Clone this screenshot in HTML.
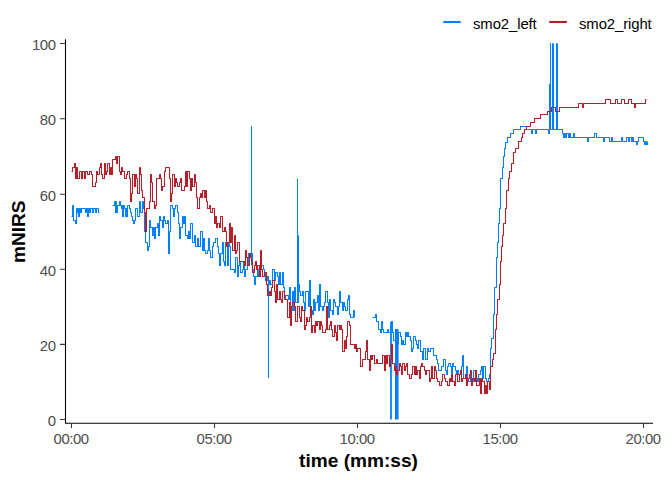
<!DOCTYPE html>
<html><head><meta charset="utf-8"><title>mNIRS</title>
<style>
html,body{margin:0;padding:0;background:#fff;}
body{width:672px;height:480px;overflow:hidden;font-family:"Liberation Sans",sans-serif;}
svg{display:block;}
text{font-family:"Liberation Sans",sans-serif;}
.tk{font-size:14.9px;fill:#4D4D4D;letter-spacing:-0.45px;}
.ti{font-size:19.1px;font-weight:bold;fill:#000;}
.lg{font-size:14.9px;fill:#000;letter-spacing:-0.1px;}
</style></head><body>
<svg width="672" height="480" viewBox="0 0 672 480">
<rect width="672" height="480" fill="#fff"/>
<!-- data -->
<g fill="none" stroke="#0080FF" stroke-width="1.07" stroke-linejoin="round"><path d="M71.5,216.5H72.5V205.5H73.5V220.5H74.5H75.5V223.5H76.5V208.5H77.5V212.5H78.5V208.5H78.5V216.5H79.5V208.5H80.5V212.5H81.5V208.5H85.5V212.5H86.5V208.5H87.5V216.5H88.5V208.5H89.5V212.5H90.5V208.5H92.5V212.5H93.5V208.5H95.5V212.5H96.5V208.5H98.5V212.5H99.5"/><path d="M112.5,205.5H114.5V201.5H115.5V212.5H116.5V201.5H116.5V212.5H117.5V205.5H119.5V201.5H120.5V205.5H121.5V208.5H121.5V205.5H122.5V216.5H123.5V205.5H124.5V208.5H125.5V216.5H125.5V208.5H126.5V216.5H127.5V205.5H129.5V208.5H130.5V212.5H131.5V216.5H132.5V220.5H133.5V223.5H134.5V220.5H135.5V208.5H137.5V216.5H138.5H139.5V201.5H140.5V212.5H142.5V201.5H143.5V208.5H144.5V231.5H145.5V242.5H147.5V250.5H148.5V246.5H149.5V220.5H150.5V227.5H152.5V235.5H153.5V227.5H154.5V238.5H155.5V227.5H157.5V223.5H158.5V235.5H159.5V216.5H160.5V220.5H162.5V227.5H163.5V216.5H164.5V220.5H165.5V223.5H167.5V220.5H168.5V253.5H169.5V231.5H170.5V205.5H172.5V208.5H173.5V216.5H174.5V208.5H175.5V205.5H177.5V212.5H178.5V223.5H179.5V238.5H180.5V227.5H182.5V216.5H183.5V223.5H184.5V216.5H185.5V235.5H187.5V238.5H188.5V231.5H189.5V238.5H190.5V223.5H192.5V242.5H193.5H194.5V235.5H195.5V246.5H197.5V238.5H198.5V246.5H199.5H200.5V231.5H202.5V250.5H203.5V238.5H204.5V250.5H205.5V253.5H207.5V250.5H208.5V238.5H209.5V250.5H210.5V257.5H212.5V246.5H213.5V242.5H214.5H215.5V238.5H217.5V246.5H218.5V253.5H219.5V265.5H220.5V253.5H222.5V242.5H223.5V261.5H224.5V265.5H225.5V242.5H227.5V265.5H228.5V242.5H229.5V246.5H230.5V269.5H232.5H233.5H234.5V272.5H235.5V257.5H237.5V276.5H238.5V265.5H239.5V261.5H240.5V272.5H242.5V269.5H243.5V261.5H244.5V276.5H245.5V269.5H247.5V265.5H248.5V253.5H249.5H250.5H252.5V269.5H253.5V276.5H254.5V284.5H255.5V276.5H257.5V269.5H258.5V276.5H259.5V272.5H260.5V265.5H262.5H263.5V269.5H264.5V272.5H265.5V280.5H267.5V276.5H268.5V284.5H269.5V280.5H270.5V284.5H272.5V269.5H273.5H274.5V280.5H275.5V272.5H277.5V276.5H278.5V284.5H279.5V272.5H280.5V284.5H282.5V272.5H283.5V287.5H284.5V299.5H285.5V295.5H287.5H288.5V299.5H289.5V287.5H290.5V310.5H292.5V291.5H293.5V310.5H294.5V287.5H295.5V302.5H297.5V299.5H298.5V284.5H299.5V291.5H300.5V295.5H302.5V291.5H303.5V302.5H304.5V310.5H305.5V291.5H307.5H308.5V306.5H309.5V280.5H310.5V310.5H312.5V314.5H313.5V299.5H314.5V310.5H315.5V302.5H317.5V295.5H318.5V310.5H319.5V284.5H320.5V306.5H322.5V310.5H323.5V306.5H324.5V302.5H325.5V291.5H327.5V302.5H328.5V317.5H329.5V299.5H330.5V310.5H332.5V314.5H333.5V299.5H334.5V302.5H335.5V306.5H337.5V314.5H338.5V306.5H339.5V291.5H340.5V302.5H342.5V310.5H343.5V302.5H344.5V306.5H345.5V310.5H347.5V299.5H348.5V295.5H349.5V314.5H350.5V317.5H352.5H353.5V310.5H354.5V317.5"/><path d="M372.5,317.5H373.5H375.5V314.5H376.5V321.5H377.5H378.5V329.5H380.5V332.5H381.5V321.5H382.5V329.5H383.5V332.5H385.5H386.5H387.5V329.5H388.5V332.5H390.5V329.5H391.5V321.5H392.5V332.5H393.5V340.5H395.5V336.5H396.5V329.5H397.5V344.5H398.5V332.5H400.5V336.5H401.5V344.5H402.5V340.5H403.5V344.5H405.5V332.5H406.5V336.5H407.5V332.5H408.5V336.5H410.5V340.5H411.5V351.5H412.5V348.5H413.5V336.5H415.5V340.5H416.5V344.5H417.5V348.5H418.5V340.5H420.5V351.5H421.5H422.5V359.5H423.5V348.5H425.5V359.5H426.5H427.5V348.5H428.5V351.5H430.5V348.5H431.5H432.5H433.5V355.5H435.5H436.5V359.5H437.5V363.5H438.5V370.5H440.5H441.5V366.5H442.5H443.5V359.5H445.5V370.5H446.5V374.5H447.5V366.5H448.5V363.5H450.5V366.5H451.5V374.5H452.5V363.5H453.5V366.5H455.5V370.5H456.5V374.5H457.5V370.5H458.5V374.5H460.5H461.5V366.5H462.5V355.5H463.5V378.5H465.5V374.5H466.5V366.5H467.5V378.5H468.5V381.5H470.5V374.5H471.5V381.5H472.5H473.5V370.5H475.5H476.5V378.5H477.5V381.5H478.5V374.5H480.5V370.5H481.5V366.5H482.5V378.5H483.5V366.5H485.5V378.5H486.5V381.5H487.5H488.5V378.5H490.5V374.5H489.5V378.5H490.5V348.5H491.5V338.5H493.5V314.5H494.5V287.5H496.5V257.5H497.5V242.5H498.5V223.5H499.5V208.5H500.5V197.5H500.5V178.5H502.5V167.5H503.5V156.5H504.5V148.5H505.5V142.5H507.5V137.5H510.5V133.5H513.5V129.5H520.5V126.5H526.5V129.5H531.5V133.5H532.5V129.5H535.5V133.5H536.5V129.5H548.5V133.5H549.5V84.5H550.5V43.5H550.5V129.5H562.5V133.5H563.5V137.5H564.5V133.5H565.5V137.5H566.5V133.5H568.5V137.5H569.5V133.5H570.5V137.5H573.5V133.5H574.5V137.5H587.5V141.5H588.5V137.5H594.5V133.5H596.5V137.5H603.5V141.5H604.5V137.5H609.5V141.5H611.5V137.5H612.5V141.5H621.5V137.5H622.5V141.5H626.5V137.5H628.5V141.5H629.5V137.5H631.5V141.5H632.5V137.5H633.5V141.5H636.5V144.5H637.5V141.5H638.5V137.5H643.5V141.5H644.5V144.5H645.5V141.5H646.5V144.5H647.5V141.5"/><path d="M251.5,265.3V126.1" stroke-width="1.07"/><path d="M268.5,280.3V378.1" stroke-width="1.07"/><path d="M297.5,302.9V178.7" stroke-width="1.07"/><path d="M298.5,302.9V235.2" stroke-width="1.07"/><path d="M391.0,321.7V419.5" stroke-width="1.80"/><path d="M396.8,329.2V419.5" stroke-width="3.60"/><path d="M553.0,129.8V43.3" stroke-width="2.00"/><path d="M557.0,129.8V43.3" stroke-width="2.00"/></g>
<g fill="none" stroke="#B41F2A" stroke-width="1.07" stroke-linejoin="round"><path d="M71.5,171.5H72.5V167.5H74.5V163.5H75.5V178.5H76.5V167.5H77.5V178.5H79.5V171.5H80.5H81.5V178.5H82.5V171.5H84.5V178.5H85.5V171.5H86.5H87.5V174.5H89.5V171.5H90.5H91.5V174.5H92.5V186.5H94.5H95.5V182.5H96.5V171.5H97.5V174.5H99.5V167.5H100.5V163.5H101.5V174.5H102.5V178.5H104.5V163.5H105.5V174.5H106.5V171.5H107.5V163.5H109.5V174.5H110.5V167.5H111.5V174.5H112.5V159.5H114.5H115.5V156.5H116.5V163.5H117.5V156.5H119.5V171.5H120.5V174.5H121.5V167.5H122.5V171.5H124.5V178.5H125.5H126.5V174.5H127.5V171.5H129.5V178.5H130.5V201.5H131.5V193.5H132.5V174.5H134.5V186.5H135.5V174.5H136.5V178.5H137.5V193.5H139.5V167.5H140.5V174.5H141.5V190.5H142.5V197.5H144.5V212.5H145.5V231.5H146.5V208.5H147.5H149.5V201.5H150.5V174.5H151.5V182.5H152.5V201.5H154.5V208.5H155.5V205.5H156.5V178.5H157.5H159.5V174.5H160.5V178.5H161.5V190.5H162.5V186.5H164.5V171.5H165.5V167.5H166.5H167.5H169.5V178.5H170.5V201.5H171.5V193.5H172.5V174.5H174.5V186.5H175.5V178.5H176.5V182.5H177.5V186.5H179.5V182.5H180.5V178.5H181.5V190.5H182.5H184.5V186.5H185.5V171.5H186.5V186.5H187.5V171.5H189.5V178.5H190.5V190.5H191.5V178.5H192.5V186.5H194.5V174.5H195.5V182.5H196.5V197.5H197.5V208.5H199.5V197.5H200.5V193.5H201.5V197.5H202.5V190.5H204.5V197.5H205.5V190.5H206.5V201.5H207.5V208.5H209.5V205.5H210.5V212.5H211.5H212.5V208.5H214.5V223.5H215.5V216.5H216.5V227.5H217.5V223.5H219.5V227.5H220.5V216.5H221.5H222.5V231.5H224.5V227.5H225.5V231.5H226.5V246.5H227.5V242.5H229.5V223.5H230.5V242.5H231.5V227.5H232.5V250.5H234.5V235.5H235.5V253.5H236.5V250.5H237.5V242.5H239.5V261.5H240.5H241.5H242.5H244.5V265.5H245.5V250.5H246.5V257.5H247.5V265.5H249.5V253.5H250.5V257.5H251.5V261.5H252.5V272.5H254.5V265.5H255.5V261.5H256.5V269.5H257.5V265.5H259.5V276.5H260.5V250.5H261.5V269.5H262.5V276.5H264.5V272.5H265.5H266.5V284.5H267.5V295.5H269.5V291.5H270.5V295.5H271.5V287.5H272.5V280.5H274.5V291.5H275.5V302.5H276.5V284.5H277.5V299.5H279.5V291.5H280.5V299.5H281.5V302.5H282.5V291.5H284.5V299.5H285.5H286.5H287.5V317.5H289.5V302.5H290.5V325.5H291.5V306.5H292.5V302.5H294.5V306.5H295.5V321.5H296.5H297.5V306.5H299.5V317.5H300.5V321.5H301.5V306.5H302.5V310.5H304.5V329.5H305.5V325.5H306.5V317.5H307.5V321.5H309.5V317.5H310.5V306.5H311.5V332.5H312.5V325.5H314.5V332.5H315.5V321.5H316.5V325.5H317.5V321.5H319.5V329.5H320.5V321.5H321.5V325.5H322.5V332.5H324.5H325.5V329.5H326.5V306.5H327.5V329.5H329.5V325.5H330.5V321.5H331.5V329.5H332.5V336.5H334.5V325.5H335.5V332.5H336.5V340.5H337.5V325.5H339.5V329.5H340.5V325.5H341.5V329.5H342.5V351.5H344.5V340.5H345.5V348.5H346.5V336.5H347.5V321.5H349.5V325.5H350.5V344.5H351.5H352.5H354.5V348.5H355.5V344.5H356.5V351.5H357.5V348.5H359.5H360.5V366.5H361.5H362.5V359.5H364.5H365.5V351.5H366.5V340.5H367.5V359.5H369.5V370.5H370.5V355.5H371.5V359.5H372.5V355.5H374.5V363.5H375.5H376.5V359.5H377.5V363.5H379.5H380.5H381.5H382.5V355.5H384.5V370.5H385.5V355.5H386.5V363.5H387.5V355.5H389.5V366.5H390.5V359.5H391.5V344.5H392.5V363.5H394.5V370.5H395.5V366.5H396.5V374.5H397.5V370.5H399.5V363.5H400.5V366.5H401.5V374.5H402.5V363.5H404.5V370.5H405.5V366.5H406.5V363.5H407.5V374.5H409.5V378.5H410.5H411.5V374.5H412.5V366.5H414.5V374.5H415.5V366.5H416.5V374.5H417.5V370.5H419.5V378.5H420.5V366.5H421.5V363.5H422.5V366.5H424.5V370.5H425.5V374.5H426.5V370.5H427.5H429.5V381.5H430.5V378.5H431.5V366.5H432.5V378.5H434.5V366.5H435.5V370.5H436.5V378.5H437.5V381.5H439.5V385.5H440.5H441.5V381.5H442.5V374.5H444.5V378.5H445.5V381.5H446.5H447.5V385.5H449.5V378.5H450.5V381.5H451.5V374.5H452.5V381.5H454.5V385.5H455.5V374.5H456.5H457.5V381.5H459.5V374.5H460.5V370.5H461.5V381.5H462.5V378.5H464.5H465.5V374.5H466.5V385.5H467.5V378.5H469.5V374.5H470.5V370.5H471.5V385.5H472.5V378.5H474.5V381.5H475.5V370.5H476.5V385.5H477.5H479.5V378.5H480.5V393.5H481.5V378.5H482.5V381.5H484.5V393.5H485.5V385.5H486.5V393.5H487.5V381.5H489.5V389.5H489.5H490.5V366.5H492.5V359.5H493.5V353.5H495.5V329.5H496.5V314.5H497.5V299.5H499.5V284.5H500.5V261.5H501.5V246.5H502.5V235.5H503.5V223.5H505.5V208.5H506.5V190.5H508.5V178.5H509.5V171.5H511.5V163.5H513.5V152.5H515.5V148.5H518.5V141.5H521.5V137.5H522.5V133.5H524.5V129.5H526.5V126.5H530.5V122.5H534.5V118.5H540.5V114.5H547.5V111.5H551.5V107.5H555.5V111.5H559.5V107.5H578.5V103.5H582.5V107.5H583.5V103.5H605.5V99.5H610.5V103.5H615.5V99.5H617.5V103.5H621.5V99.5H624.5V103.5H628.5V99.5H631.5V103.5H634.5V107.5H635.5V103.5H645.5V99.5H646.5"/></g>
<!-- axes -->
<g stroke="#000" stroke-width="1.07" fill="none">
<path d="M65.5,39.2V423.3H653"/>
</g>
<g stroke="#333" stroke-width="1.07" fill="none">
<path d="M60,43.5H65.5M60,118.7H65.5M60,194.2H65.5M60,269.3H65.5M60,344.4H65.5M60,419.5H65.5"/>
<path d="M71.5,423.3V428M214.5,423.3V428M357.5,423.3V428M500.5,423.3V428M643.5,423.3V428"/>
</g>
<g class="tk" text-anchor="end">
<text x="55.5" y="50.3">100</text>
<text x="55.5" y="125.4">80</text>
<text x="55.5" y="200.6">60</text>
<text x="55.5" y="275.7">40</text>
<text x="55.5" y="350.9">20</text>
<text x="55.5" y="426">0</text>
</g>
<g class="tk" text-anchor="middle">
<text x="71.1" y="444.3">00:00</text>
<text x="214.1" y="444.3">05:00</text>
<text x="357.1" y="444.3">10:00</text>
<text x="500.1" y="444.3">15:00</text>
<text x="643.1" y="444.3">20:00</text>
</g>
<text class="ti" x="358.5" y="466.5" text-anchor="middle">time (mm:ss)</text>
<text class="ti" transform="translate(24.6,231.7) rotate(-90)" text-anchor="middle">mNIRS</text>
<!-- legend -->
<path d="M443.3,22H460.7" stroke="#0080FF" stroke-width="2.13" fill="none"/>
<text class="lg" x="473" y="29.2">smo2_left</text>
<path d="M549.2,22H566.8" stroke="#B41F2A" stroke-width="2.13" fill="none"/>
<text class="lg" x="579" y="29.2">smo2_right</text>
</svg>
</body></html>
